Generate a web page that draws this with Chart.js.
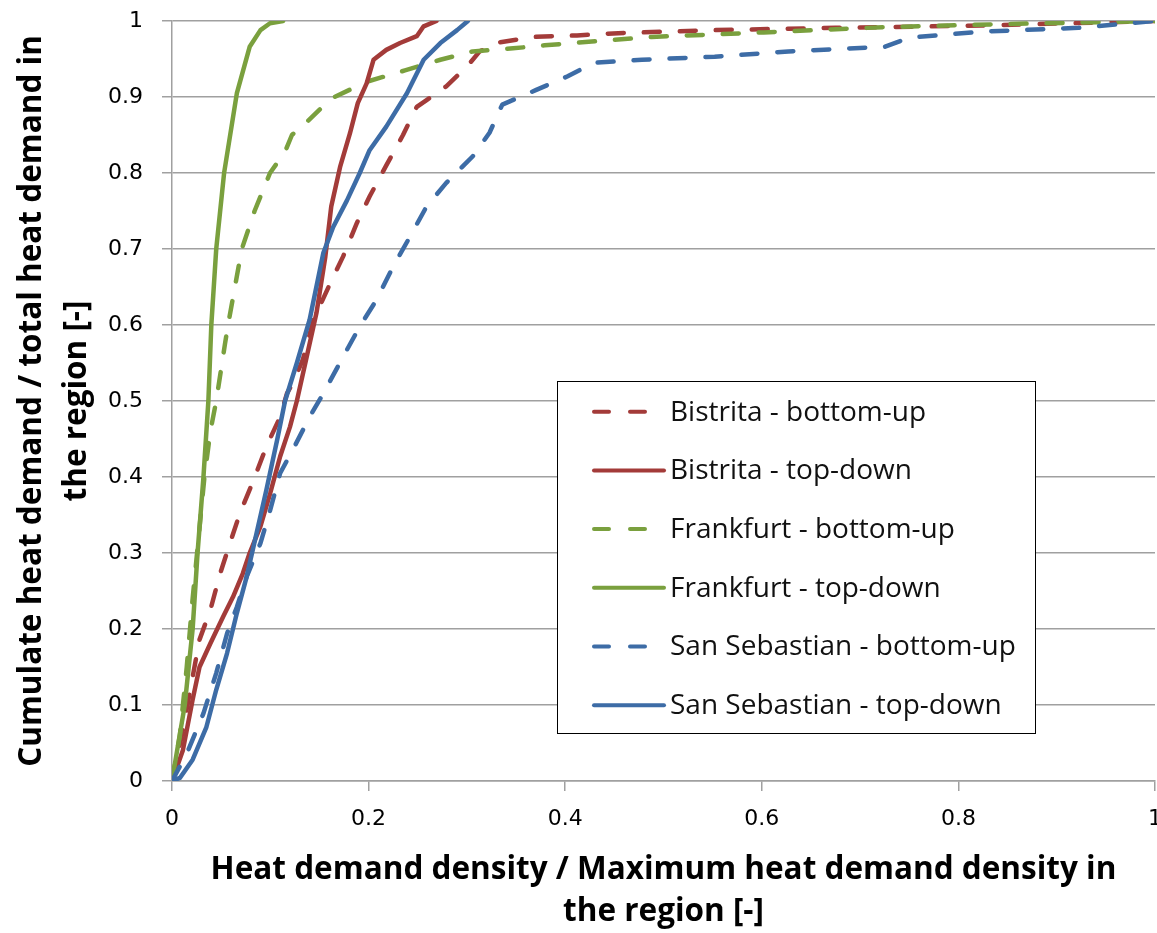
<!DOCTYPE html>
<html><head><meta charset="utf-8">
<script src="https://cdn.jsdelivr.net/npm/chart.js@4"></script>
<style>html,body{margin:0;padding:0;background:#fff}</style>
</head><body>
<canvas id="c" width="1157" height="933"></canvas>
<script>
const seriesLabels = ['Bistrita - bottom-up','Bistrita - top-down','Frankfurt - bottom-up','Frankfurt - top-down','San Sebastian - bottom-up','San Sebastian - top-down'];
const xTickLabels = ['0','0.2','0.4','0.6','0.8','1'];
const yTickLabels = ['0','0.1','0.2','0.3','0.4','0.5','0.6','0.7','0.8','0.9','1'];

const bistritaBU_x = [0,0.010,0.021,0.028,0.039,0.049,0.059,0.069,0.083,0.096,0.110,0.117,0.123,0.133,0.144,0.161,0.174,0.188,0.201,0.218,0.235,0.249,0.259,0.279,0.300,0.313,0.334,0.367,0.412,0.454,0.552,0.675,0.824,1];
const bistritaBU_y = [0,0.060,0.137,0.186,0.225,0.273,0.313,0.352,0.396,0.440,0.479,0.510,0.524,0.554,0.607,0.655,0.690,0.734,0.769,0.810,0.850,0.887,0.896,0.914,0.940,0.960,0.972,0.979,0.981,0.984,0.988,0.991,0.994,1];

const bistritaTD_x = [0,0.011,0.021,0.028,0.039,0.052,0.062,0.072,0.079,0.090,0.100,0.110,0.120,0.127,0.137,0.147,0.156,0.162,0.171,0.181,0.189,0.198,0.205,0.218,0.232,0.249,0.256,0.269];
const bistritaTD_y = [0,0.040,0.107,0.150,0.181,0.216,0.242,0.273,0.300,0.335,0.379,0.427,0.466,0.500,0.558,0.616,0.690,0.756,0.808,0.852,0.892,0.918,0.949,0.962,0.971,0.980,0.993,1];

const frankfurtBU_x = [0,0.008,0.015,0.021,0.027,0.033,0.039,0.045,0.054,0.057,0.071,0.084,0.0997,0.115,0.122,0.137,0.162,0.198,0.237,0.273,0.306,0.347,0.379,0.408,0.488,0.602,0.725,0.848,1];
const frankfurtBU_y = [0,0.060,0.150,0.240,0.320,0.400,0.460,0.500,0.576,0.600,0.700,0.750,0.800,0.828,0.850,0.867,0.898,0.920,0.935,0.949,0.960,0.964,0.968,0.971,0.979,0.985,0.992,0.996,1];

const frankfurtTD_x = [0,0.013,0.021,0.026,0.032,0.037,0.040,0.045,0.053,0.066,0.079,0.090,0.0997,0.113];
const frankfurtTD_y = [0,0.100,0.200,0.300,0.400,0.500,0.600,0.700,0.800,0.905,0.966,0.988,0.997,1];

const sanSebBU_x = [0,0.015,0.032,0.045,0.056,0.066,0.076,0.090,0.100,0.110,0.123,0.140,0.154,0.174,0.191,0.208,0.225,0.242,0.259,0.279,0.306,0.323,0.336,0.370,0.402,0.429,0.478,0.552,0.627,0.725,0.750,0.824,0.922,1];
const sanSebBU_y = [0,0.036,0.089,0.142,0.194,0.229,0.269,0.313,0.357,0.405,0.436,0.479,0.510,0.558,0.598,0.633,0.677,0.716,0.756,0.787,0.822,0.853,0.890,0.909,0.927,0.945,0.949,0.953,0.960,0.966,0.978,0.986,0.991,1];

const sanSebTD_x = [0,0.008,0.021,0.035,0.045,0.056,0.066,0.076,0.086,0.096,0.107,0.115,0.127,0.140,0.154,0.164,0.178,0.191,0.201,0.218,0.239,0.256,0.273,0.290,0.301];
const sanSebTD_y = [0,0.004,0.028,0.071,0.120,0.168,0.221,0.269,0.326,0.383,0.449,0.500,0.550,0.607,0.695,0.729,0.764,0.800,0.830,0.861,0.905,0.949,0.971,0.988,1];

const RED = '#A33B39', GREEN = '#7AA03E', BLUE = '#3D6CA6';
const DASH = [16, 20];

function pts(xs, ys) { return xs.map((x, i) => ({x: x, y: ys[i]})); }
function ds(label, xs, ys, color, dashed, order) {
  return {label, data: pts(xs, ys), borderColor: color, backgroundColor: color,
    borderWidth: 4.5, borderDash: dashed ? DASH : [], borderCapStyle: 'round', borderJoinStyle: 'round',
    pointRadius: 0, tension: 0, fill: false, order};
}

const boxLegend = {
  id: 'boxLegend',
  afterDatasetsDraw(chart) {
    const ctx = chart.ctx;
    const x0 = 557, y0 = 381, x1 = 1035, y1 = 733;
    ctx.save();
    ctx.fillStyle = '#ffffff';
    ctx.fillRect(x0, y0, x1 - x0, y1 - y0);
    ctx.strokeStyle = '#000000';
    ctx.lineWidth = 1;
    ctx.strokeRect(x0 + 0.5, y0 + 0.5, x1 - x0, y1 - y0);
    const rowStart = 411.7, rowStep = 58.7;
    ctx.font = '28px "Open Sans"';
    ctx.textBaseline = 'middle';
    ctx.textAlign = 'left';
    chart.data.datasets.forEach((d, i) => {
      const y = rowStart + i * rowStep;
      ctx.strokeStyle = d.borderColor;
      ctx.lineWidth = 4;
      ctx.lineCap = 'round';
      ctx.beginPath();
      if (d.borderDash.length) {
        ctx.moveTo(594, y); ctx.lineTo(609, y);
        ctx.moveTo(630, y); ctx.lineTo(645, y);
      } else {
        ctx.moveTo(594, y); ctx.lineTo(664, y);
      }
      ctx.stroke();
      ctx.fillStyle = '#111111';
      ctx.fillText(d.label, 670, y + 1);
    });
    ctx.restore();
  }
};

const GRID = '#a0a0a0';
new Chart(document.getElementById('c'), {
  type: 'line',
  data: {
    datasets: [
      ds(seriesLabels[0], bistritaBU_x, bistritaBU_y, RED, true, 5),
      ds(seriesLabels[1], bistritaTD_x, bistritaTD_y, RED, false, 3),
      ds(seriesLabels[2], frankfurtBU_x, frankfurtBU_y, GREEN, true, 4),
      ds(seriesLabels[3], frankfurtTD_x, frankfurtTD_y, GREEN, false, 2),
      ds(seriesLabels[4], sanSebBU_x, sanSebBU_y, BLUE, true, 1),
      ds(seriesLabels[5], sanSebTD_x, sanSebTD_y, BLUE, false, 0)
    ]
  },
  options: {
    responsive: false,
    animation: false,
    devicePixelRatio: 1,
    layout: {padding: {top: 21, right: 2, left: 0, bottom: 0}},
    plugins: {legend: {display: false}, tooltip: {enabled: false}},
    scales: {
      x: {
        type: 'linear', min: 0, max: 1,
        grid: {drawOnChartArea: false, drawTicks: true, tickLength: 10, color: GRID, lineWidth: 1.5},
        border: {display: true, color: GRID, width: 1.5},
        ticks: {stepSize: 0.2, padding: 15, color: '#000', font: {family: 'DejaVu Sans', size: 22},
          maxRotation: 0, autoSkip: false,
          callback: (v) => xTickLabels[Math.round(v / 0.2)]},
        title: {display: true, text: ['Heat demand density / Maximum heat demand density in', 'the region [-]'],
          color: '#000', font: {family: 'Open Sans', size: 31.5, weight: 'bold', lineHeight: 1.333}, padding: {top: 0, bottom: 0}},
        afterFit: (s) => { s.height = 152; s.paddingLeft = 0; s.paddingRight = 0; }
      },
      y: {
        type: 'linear', min: 0, max: 1,
        grid: {drawOnChartArea: true, drawTicks: true, tickLength: 10, color: GRID, lineWidth: 1.5},
        border: {display: true, color: GRID, width: 1.5},
        ticks: {stepSize: 0.1, padding: 19, color: '#000', font: {family: 'DejaVu Sans', size: 22},
          autoSkip: false,
          callback: (v) => yTickLabels[Math.round(v / 0.1)]},
        title: {display: true, text: ['Cumulate heat demand / total heat demand in', 'the region [-]'],
          color: '#000', font: {family: 'Open Sans', size: 31.5, weight: 'bold', lineHeight: 1.43}, padding: {top: 9.5, bottom: 0}},
        afterFit: (s) => { s.width = 172; s.paddingTop = 0; s.paddingBottom = 0; }
      }
    }
  },
  plugins: [boxLegend]
});
</script>
</body></html>
